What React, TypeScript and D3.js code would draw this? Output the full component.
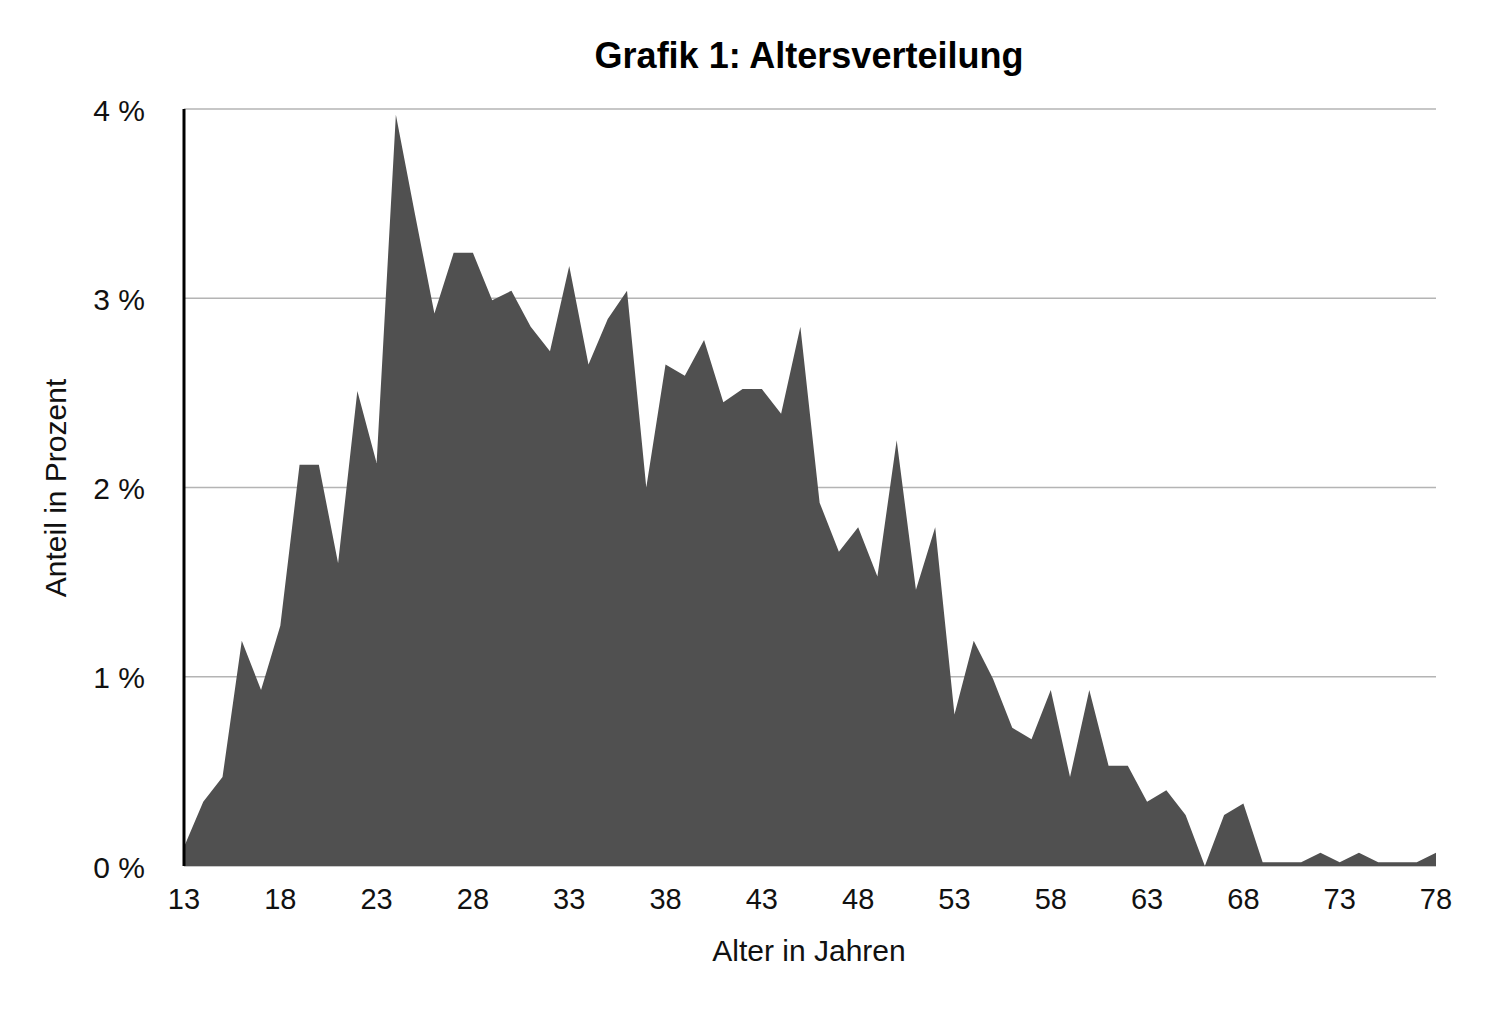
import React from "react";
import * as d3 from "d3";

const ages: number[] = d3.range(13, 79);
const shares: number[] = [
  0.1, 0.34, 0.47, 1.19, 0.93, 1.27, 2.12, 2.12, 1.6, 2.51,
  2.13, 3.97, 3.44, 2.92, 3.24, 3.24, 2.99, 3.04, 2.85, 2.72,
  3.17, 2.65, 2.89, 3.04, 2.0, 2.65, 2.59, 2.78, 2.45, 2.52,
  2.52, 2.39, 2.85, 1.92, 1.66, 1.79, 1.53, 2.25, 1.46, 1.79,
  0.8, 1.19, 0.99, 0.73, 0.67, 0.93, 0.47, 0.93, 0.53, 0.53,
  0.34, 0.4, 0.27, 0.0, 0.27, 0.33, 0.02, 0.02, 0.02, 0.07,
  0.02, 0.07, 0.02, 0.02, 0.02, 0.07,
];
const xTicks: number[] = [13, 18, 23, 28, 33, 38, 43, 48, 53, 58, 63, 68, 73, 78];
const yTicks: number[] = [0, 1, 2, 3, 4];

const title = "Grafik 1: Altersverteilung";
const xLabel = "Alter in Jahren";
const yLabel = "Anteil in Prozent";

export default function App() {
  const W = 1500;
  const H = 1024;
  const left = 184;
  const right = 1436;
  const top = 109;
  const bottom = 866;
  const font = "'Liberation Sans', Arial, Helvetica, sans-serif";

  const x = d3.scaleLinear().domain([13, 78]).range([left, right]);
  const y = d3.scaleLinear().domain([0, 4]).range([bottom, top]);

  const data = ages.map((a, i) => ({ a, v: shares[i] }));
  const area = d3
    .area<{ a: number; v: number }>()
    .x((d) => x(d.a))
    .y0(y(0))
    .y1((d) => y(d.v));

  return (
    <svg
      width={W}
      height={H}
      style={{ position: "absolute", left: 0, top: 0, background: "#fff" }}
    >
      <rect x={0} y={0} width={W} height={H} fill="#fff" />
      {yTicks.map((t) => (
        <line
          key={"g" + t}
          x1={left}
          x2={right}
          y1={y(t)}
          y2={y(t)}
          stroke="#b4b4b4"
          strokeWidth={1.5}
        />
      ))}
      <path d={area(data) || ""} fill="#505050" />
      <line x1={left} x2={left} y1={top} y2={bottom} stroke="#000" strokeWidth={3} />
      {yTicks.map((t) => (
        <text
          key={"y" + t}
          x={145}
          y={y(t) + 1}
          textAnchor="end"
          dominantBaseline="central"
          fontFamily={font}
          fontSize={30}
          fill="#111"
        >
          {t} %
        </text>
      ))}
      {xTicks.map((t) => (
        <text
          key={"x" + t}
          x={x(t)}
          y={909}
          textAnchor="middle"
          fontFamily={font}
          fontSize={29}
          fill="#111"
        >
          {t}
        </text>
      ))}
      <text
        x={809}
        y={68}
        textAnchor="middle"
        fontFamily={font}
        fontSize={36}
        fontWeight="bold"
        fill="#000"
      >
        {title}
      </text>
      <text
        x={809}
        y={961}
        textAnchor="middle"
        fontFamily={font}
        fontSize={30}
        fill="#111"
      >
        {xLabel}
      </text>
      <text
        transform={`translate(66, 488) rotate(-90)`}
        textAnchor="middle"
        fontFamily={font}
        fontSize={30}
        fill="#111"
      >
        {yLabel}
      </text>
    </svg>
  );
}
